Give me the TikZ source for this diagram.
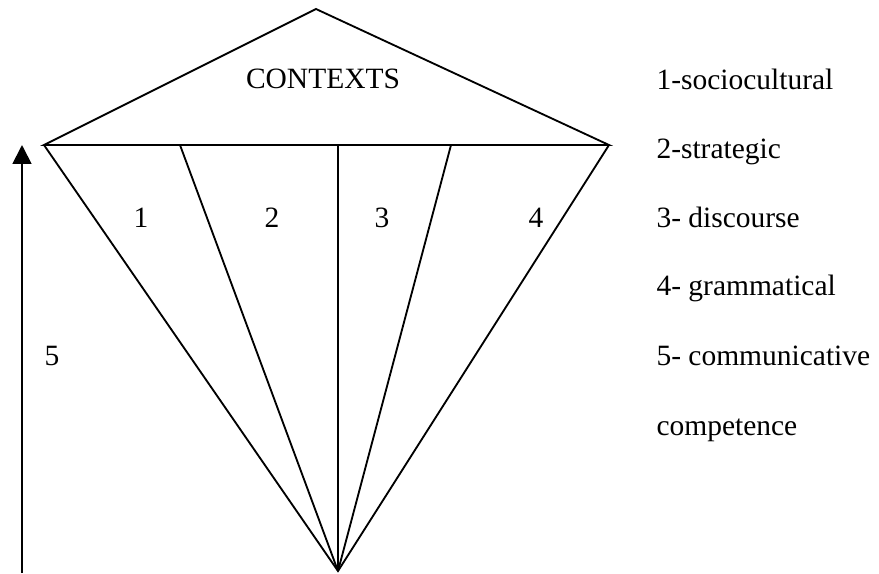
\documentclass[tikz,border=0pt]{standalone}
\usepackage{fontspec}
\setmainfont{Liberation Serif}
\usetikzlibrary{arrows.meta}

\begin{document}
\begin{tikzpicture}[
  x=0.407pt, y=-0.407pt,
  kedge/.style={line width=0.75pt},
  klabel/.style={font=\fontsize{12}{14}\selectfont, inner sep=0pt, anchor=base},
  klegend/.style={klabel, anchor=base west}
]
\useasboundingbox (0,0) rectangle (879,573);
\coordinate (apex) at (316,9);
\coordinate (leftc) at (44,145);
\coordinate (rightc) at (609,145);
\coordinate (tip) at (338,571);
\coordinate (cut1) at (180,145);
\coordinate (cut2) at (338,145);
\coordinate (cut3) at (451,145);
\coordinate (arrowfoot) at (22,573);
\coordinate (arrowtop) at (22,145);
\draw[kedge] (leftc) -- (apex) -- (rightc) -- cycle;
\draw[kedge] (leftc) -- (tip) -- (rightc);
\draw[kedge] (cut1) -- (tip);
\draw[kedge] (cut2) -- (tip);
\draw[kedge] (cut3) -- (tip);
\draw[kedge, -{Triangle[length=7.7pt, width=7.7pt]}] (arrowfoot) -- (arrowtop);
\node[klabel] (ctx) at (323,88) {CONTEXTS};
\node[klabel] (n1) at (141,227) {1};
\node[klabel] (n2) at (272,227) {2};
\node[klabel] (n3) at (382,227) {3};
\node[klabel] (n4) at (536,227) {4};
\node[klabel] (n5) at (52,365) {5};
\node[klegend] (socio) at (656,89) {1-sociocultural};
\node[klegend] (strat) at (656,158) {2-strategic};
\node[klegend] (disc) at (656,227) {3- discourse};
\node[klegend] (gram) at (656,295) {4- grammatical};
\node[klegend] (comm) at (656,365) {5- communicative};
\node[klegend] (compt) at (656,435) {competence};
\end{tikzpicture}
\end{document}
